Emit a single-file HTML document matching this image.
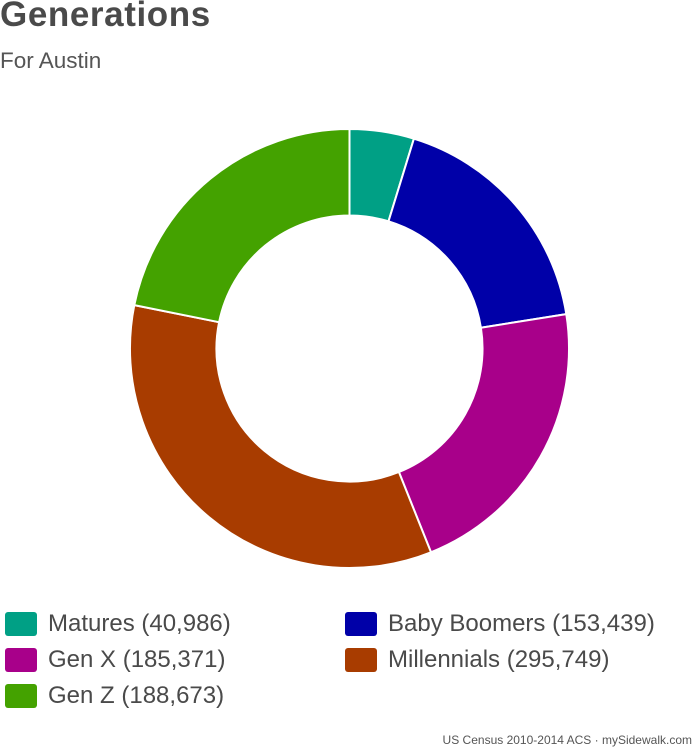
<!DOCTYPE html>
<html><head><meta charset="utf-8"><style>
body{margin:0;width:697px;height:750px;background:#fff;font-family:"Liberation Sans",Arial,sans-serif;position:relative;overflow:hidden}
.t{position:absolute;left:0;top:-5px;font-size:35px;font-weight:bold;color:#4a4a4a;letter-spacing:0.6px}
.s{position:absolute;left:0;top:48px;font-size:22.5px;color:#555}
.l{position:absolute;font-size:24px;color:#4a4a4a;line-height:24px}
.l i{position:absolute;left:-43px;top:0;width:32px;height:24px;border-radius:3px}
.f{position:absolute;right:5px;top:733px;font-size:12px;color:#555}
</style></head><body>
<div class="t">Generations</div>
<div class="s">For Austin</div>
<svg width="697" height="750" style="position:absolute;left:0;top:0">
<g stroke="#fff" stroke-width="2" stroke-linejoin="round">
<path fill="#00a085" d="M349.5,129 A219.5,219.5 0 0 1 413.9,138.7 L388.5,221.3 A133,133 0 0 0 349.5,215.5 Z"/>
<path fill="#0000a8" d="M413.9,138.7 A219.5,219.5 0 0 1 566.3,314.1 L480.9,327.7 A133,133 0 0 0 388.5,221.3 Z"/>
<path fill="#a8008a" d="M566.3,314.1 A219.5,219.5 0 0 1 431.0,552.3 L398.9,472.0 A133,133 0 0 0 480.9,327.7 Z"/>
<path fill="#a83c00" d="M431.0,552.3 A219.5,219.5 0 0 1 134.3,305.1 L219.1,322.2 A133,133 0 0 0 398.9,472.0 Z"/>
<path fill="#44a200" d="M134.3,305.1 A219.5,219.5 0 0 1 349.5,129 L349.5,215.5 A133,133 0 0 0 219.1,322.2 Z"/>
</g></svg>
<div class="l" style="left:48px;top:612px"><i style="background:#00a085"></i>Matures (40,986)</div>
<div class="l" style="left:48px;top:648px"><i style="background:#a8008a"></i>Gen X (185,371)</div>
<div class="l" style="left:48px;top:684px"><i style="background:#44a200"></i>Gen Z (188,673)</div>
<div class="l" style="left:388px;top:612px"><i style="background:#0000a8"></i>Baby Boomers (153,439)</div>
<div class="l" style="left:388px;top:648px"><i style="background:#a83c00"></i>Millennials (295,749)</div>
<div class="f">US Census 2010-2014 ACS · mySidewalk.com</div>
</body></html>
